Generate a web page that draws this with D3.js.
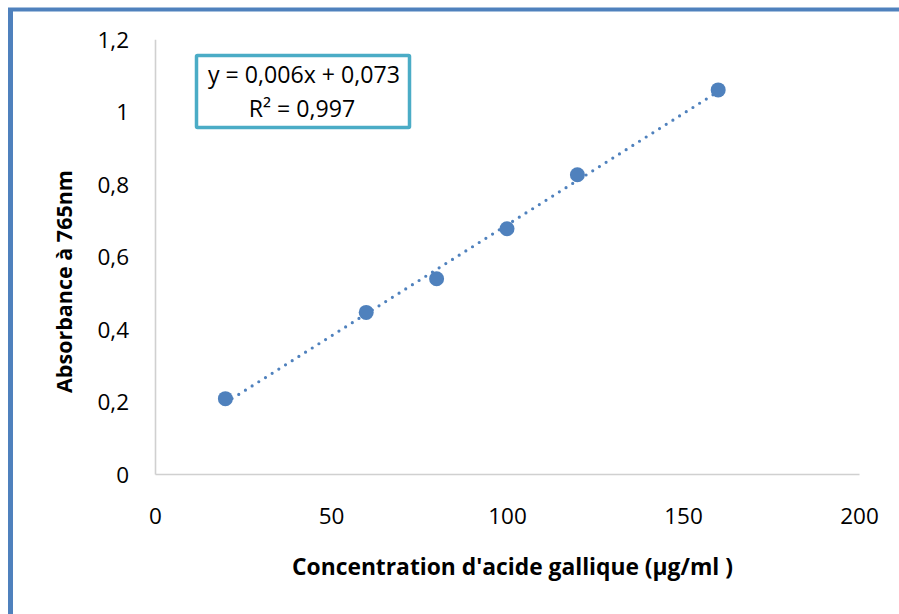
<!DOCTYPE html>
<html>
<head>
<meta charset="utf-8">
<script src="https://cdn.jsdelivr.net/npm/d3@7"></script>
<style>
  html, body { margin: 0; padding: 0; background: #fff; }
  svg { display: block; }
  text { font-family: "Open Sans", "Liberation Sans", sans-serif; fill: #000; }
</style>
</head>
<body>
<script>
// ---- data ----
const concentrations = [20, 60, 80, 100, 120, 160];
const absorbances = [0.208, 0.446, 0.539, 0.677, 0.826, 1.060];
const xTicks = [0, 50, 100, 150, 200];
const yTicks = [0, 0.2, 0.4, 0.6, 0.8, 1.0, 1.2];
const xTitle = "Concentration d'acide gallique (µg/ml )";
const yTitle = "Absorbance à 765nm";
const eqLines = ["y = 0,006x + 0,073", "R² = 0,997"];

const W = 899, H = 614;
const svg = d3.select("body").append("svg").attr("width", W).attr("height", H);

const x = d3.scaleLinear().domain([0, 200]).range([155, 859]);
const y = d3.scaleLinear().domain([0, 1.2]).range([474, 39.2]);

const fr = d3.formatLocale({decimal: ",", thousands: " ", grouping: [3], currency: ["", ""]});
const fmt = fr.format(".1~f");

function fitText(sel, target) {
  const w = sel.node().getComputedTextLength();
  const fs = parseFloat(sel.attr("font-size"));
  const nfs = fs * target / w;
  sel.attr("font-size", nfs);
  return nfs;
}

// frame
svg.append("line").attr("x1", 10.5).attr("x2", 10.5).attr("y1", 8).attr("y2", H)
  .attr("stroke", "#4f81bd").attr("stroke-width", 5);
svg.append("line").attr("x1", 8).attr("x2", W).attr("y1", 9.5).attr("y2", 9.5)
  .attr("stroke", "#4f81bd").attr("stroke-width", 4);

// axes
const xAxis = svg.append("g").attr("transform", `translate(0,${y(0)})`)
  .call(d3.axisBottom(x).tickValues(xTicks).tickFormat(d3.format("d")).tickSize(0).tickPadding(30));
const yAxis = svg.append("g").attr("transform", `translate(${x(0)},0)`)
  .call(d3.axisLeft(y).tickValues(yTicks).tickFormat(fmt).tickSize(0).tickPadding(26));
[xAxis, yAxis].forEach(g => {
  g.select(".domain").attr("stroke", "#d0d0d0").attr("stroke-width", 1.6);
  g.selectAll("text").attr("font-size", 22.5).attr("font-family", "Open Sans, sans-serif").attr("fill", "#000");
});
xAxis.selectAll("text").attr("dy", "0.32em").attr("y", 43);
yAxis.selectAll("text").attr("dy", "0.36em");

// trendline (least squares from data)
const mx = d3.mean(concentrations), my = d3.mean(absorbances);
const sxy = d3.sum(concentrations, (c, i) => (c - mx) * (absorbances[i] - my));
const sxx = d3.sum(concentrations, c => (c - mx) ** 2);
const slope = sxy / sxx, icpt = my - slope * mx;
const x0 = d3.min(concentrations), x1 = d3.max(concentrations);
svg.append("line")
  .attr("x1", x(x0)).attr("y1", y(slope * x0 + icpt))
  .attr("x2", x(x1)).attr("y2", y(slope * x1 + icpt))
  .attr("stroke", "#4f81bd").attr("stroke-width", 3.2)
  .attr("stroke-linecap", "round").attr("stroke-dasharray", "0 7.9");

// points
svg.selectAll("circle.pt").data(concentrations).enter().append("circle")
  .attr("class", "pt")
  .attr("cx", d => x(d)).attr("cy", (d, i) => y(absorbances[i]))
  .attr("r", 7.5).attr("fill", "#4f81bd");

// equation box
svg.append("rect").attr("x", 196.5).attr("y", 55.5).attr("width", 213).attr("height", 72)
  .attr("fill", "#fff").attr("stroke", "#4bacc6").attr("stroke-width", 3.5).attr("rx", 1);
const e1 = svg.append("text").attr("x", 304).attr("y", 83).attr("text-anchor", "middle")
  .attr("font-size", 20).text(eqLines[0]);
const efs = fitText(e1, 192);
svg.append("text").attr("x", 302).attr("y", 117).attr("text-anchor", "middle")
  .attr("font-size", efs).text(eqLines[1]);

// axis titles
const xt = svg.append("text").attr("x", 512.5).attr("y", 575).attr("text-anchor", "middle")
  .attr("font-weight", "bold").attr("font-size", 20).text(xTitle);
fitText(xt, 441);
const yt = svg.append("text").attr("transform", "translate(72,281.5) rotate(-90)")
  .attr("text-anchor", "middle").attr("font-weight", "bold").attr("font-size", 20).text(yTitle);
fitText(yt, 223);
</script>
</body>
</html>
